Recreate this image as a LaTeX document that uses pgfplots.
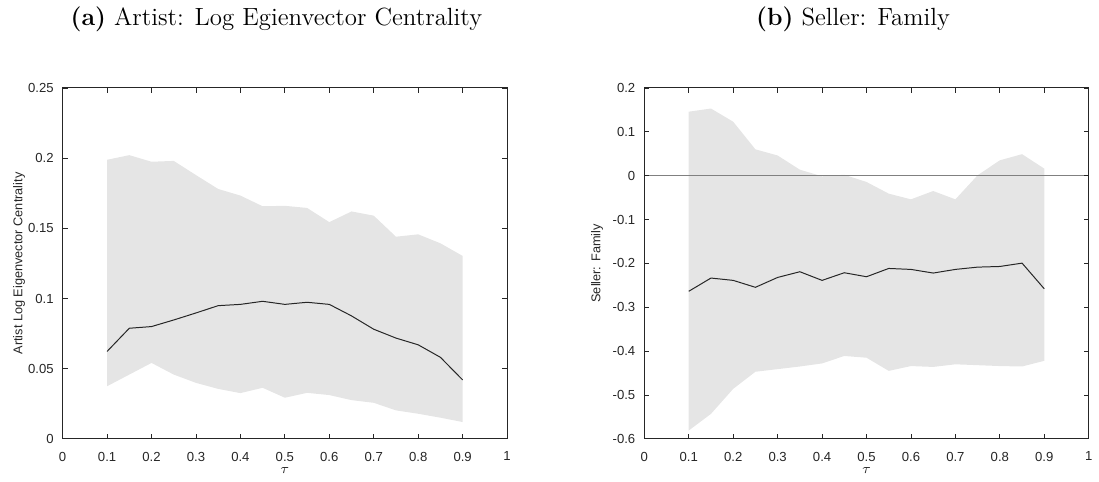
\documentclass[border=0pt]{standalone}
\usepackage{pgfplots}
\pgfplotsset{compat=1.18}
\usepgfplotslibrary{fillbetween}
\usepackage{fontspec}
\newfontfamily\helv{Liberation Sans}
\definecolor{bandgray}{RGB}{229,229,229}
\definecolor{axgray}{RGB}{38,38,38}
\definecolor{zerogray}{RGB}{128,128,128}
\begin{document}
\begin{tikzpicture}
\path (0,0) rectangle (549.5pt,240.5pt);
\pgfplotsset{
  myax/.style={
    scale only axis, width=223.5pt, height=176.5pt,
    xmin=0, xmax=1,
    xtick={0,0.1,0.2,0.3,0.4,0.5,0.6,0.7,0.8,0.9,1},
    xticklabels={0,0.1,0.2,0.3,0.4,0.5,0.6,0.7,0.8,0.9,1},
    tick align=inside, tickwidth=2.5pt,
    axis line style={axgray, line width=0.5pt},
    tick style={axgray, line width=0.4pt},
    ticklabel style={font=\helv\fontsize{6.6}{7}\selectfont, text=axgray},
    /pgf/number format/assume math mode=true,
    label style={font=\helv\fontsize{6.4}{7}\selectfont, text=axgray},
    xlabel={$\tau$},
    xlabel style={at={(axis description cs:0.5,-0.09)}, anchor=center, font=\fontsize{7.5}{8}\selectfont},
    xticklabel style={yshift=-3pt},
    yticklabel style={xshift=-1pt},
    axis on top,
  }
}
\begin{axis}[myax, at={(31.5pt,21.5pt)}, anchor=south west,
  ymin=0, ymax=0.25,
  ytick={0,0.05,0.1,0.15,0.2,0.25},
  yticklabels={0,0.05,0.1,0.15,0.2,0.25},
  ylabel={Artist Log Eigenvector Centrality},
  ylabel style={at={(axis description cs:-0.098,0.5)}, anchor=center},
]
\addplot[name path=upA, draw=none] coordinates {
(0.10,0.1988) (0.15,0.2021) (0.20,0.1974) (0.25,0.1980) (0.30,0.1879)
(0.35,0.1780) (0.40,0.1733) (0.45,0.1657) (0.50,0.1660) (0.55,0.1645)
(0.60,0.1544) (0.65,0.1620) (0.70,0.1590) (0.75,0.1440) (0.80,0.1457)
(0.85,0.1393) (0.90,0.1303)};
\addplot[name path=loA, draw=none] coordinates {
(0.10,0.0375) (0.15,0.0458) (0.20,0.0541) (0.25,0.0458) (0.30,0.0399)
(0.35,0.0356) (0.40,0.0326) (0.45,0.0364) (0.50,0.0293) (0.55,0.0328)
(0.60,0.0312) (0.65,0.0276) (0.70,0.0257) (0.75,0.0203) (0.80,0.0179)
(0.85,0.0151) (0.90,0.0120)};
\addplot[fill=bandgray, draw=none] fill between[of=upA and loA];
\addplot[axgray, line width=0.5pt] coordinates {
(0.10,0.0623) (0.15,0.0788) (0.20,0.0800) (0.25,0.0847) (0.30,0.0897)
(0.35,0.0949) (0.40,0.0958) (0.45,0.0980) (0.50,0.0958) (0.55,0.0973)
(0.60,0.0958) (0.65,0.0876) (0.70,0.0781) (0.75,0.0718) (0.80,0.0670)
(0.85,0.0581) (0.90,0.0420)};
\end{axis}
\begin{axis}[myax, at={(324pt,21.5pt)}, anchor=south west,
  ymin=-0.6, ymax=0.2,
  ytick={-0.6,-0.5,-0.4,-0.3,-0.2,-0.1,0,0.1,0.2},
  yticklabels={-0.6,-0.5,-0.4,-0.3,-0.2,-0.1,0,0.1,0.2},
  ylabel={Seller: Family},
  ylabel style={at={(axis description cs:-0.106,0.5)}, anchor=center},
]
\addplot[name path=upB, draw=none] coordinates {
(0.10,0.1458) (0.15,0.1530) (0.20,0.1230) (0.25,0.0600) (0.30,0.0460)
(0.35,0.0136) (0.40,-0.0015) (0.45,0.0020) (0.50,-0.0144) (0.55,-0.0410)
(0.60,-0.0540) (0.65,-0.0350) (0.70,-0.0540) (0.75,0.0010) (0.80,0.0350)
(0.85,0.0490) (0.90,0.0160)};
\addplot[name path=loB, draw=none] coordinates {
(0.10,-0.5810) (0.15,-0.5430) (0.20,-0.4860) (0.25,-0.4470) (0.30,-0.4410)
(0.35,-0.4350) (0.40,-0.4280) (0.45,-0.4110) (0.50,-0.4150) (0.55,-0.4450)
(0.60,-0.4340) (0.65,-0.4360) (0.70,-0.4300) (0.75,-0.4320) (0.80,-0.4340)
(0.85,-0.4350) (0.90,-0.4220)};
\addplot[fill=bandgray, draw=none] fill between[of=upB and loB];
\addplot[zerogray, line width=0.5pt] coordinates {(0,0) (1,0)};
\addplot[axgray, line width=0.5pt] coordinates {
(0.10,-0.2636) (0.15,-0.2334) (0.20,-0.2387) (0.25,-0.2545) (0.30,-0.2320)
(0.35,-0.2190) (0.40,-0.2387) (0.45,-0.2213) (0.50,-0.2304) (0.55,-0.2115)
(0.60,-0.2137) (0.65,-0.2220) (0.70,-0.2137) (0.75,-0.2085) (0.80,-0.2070)
(0.85,-0.1994) (0.90,-0.2580)};
\end{axis}
\node[anchor=base, font=\fontsize{12.5}{14}\selectfont] at (139pt,229.5pt) {\textbf{(a)} Artist: Log Egienvector Centrality};
\node[anchor=base, font=\fontsize{12.5}{14}\selectfont] at (429pt,229.5pt) {\textbf{(b)} Seller: Family};
\end{tikzpicture}
\end{document}
